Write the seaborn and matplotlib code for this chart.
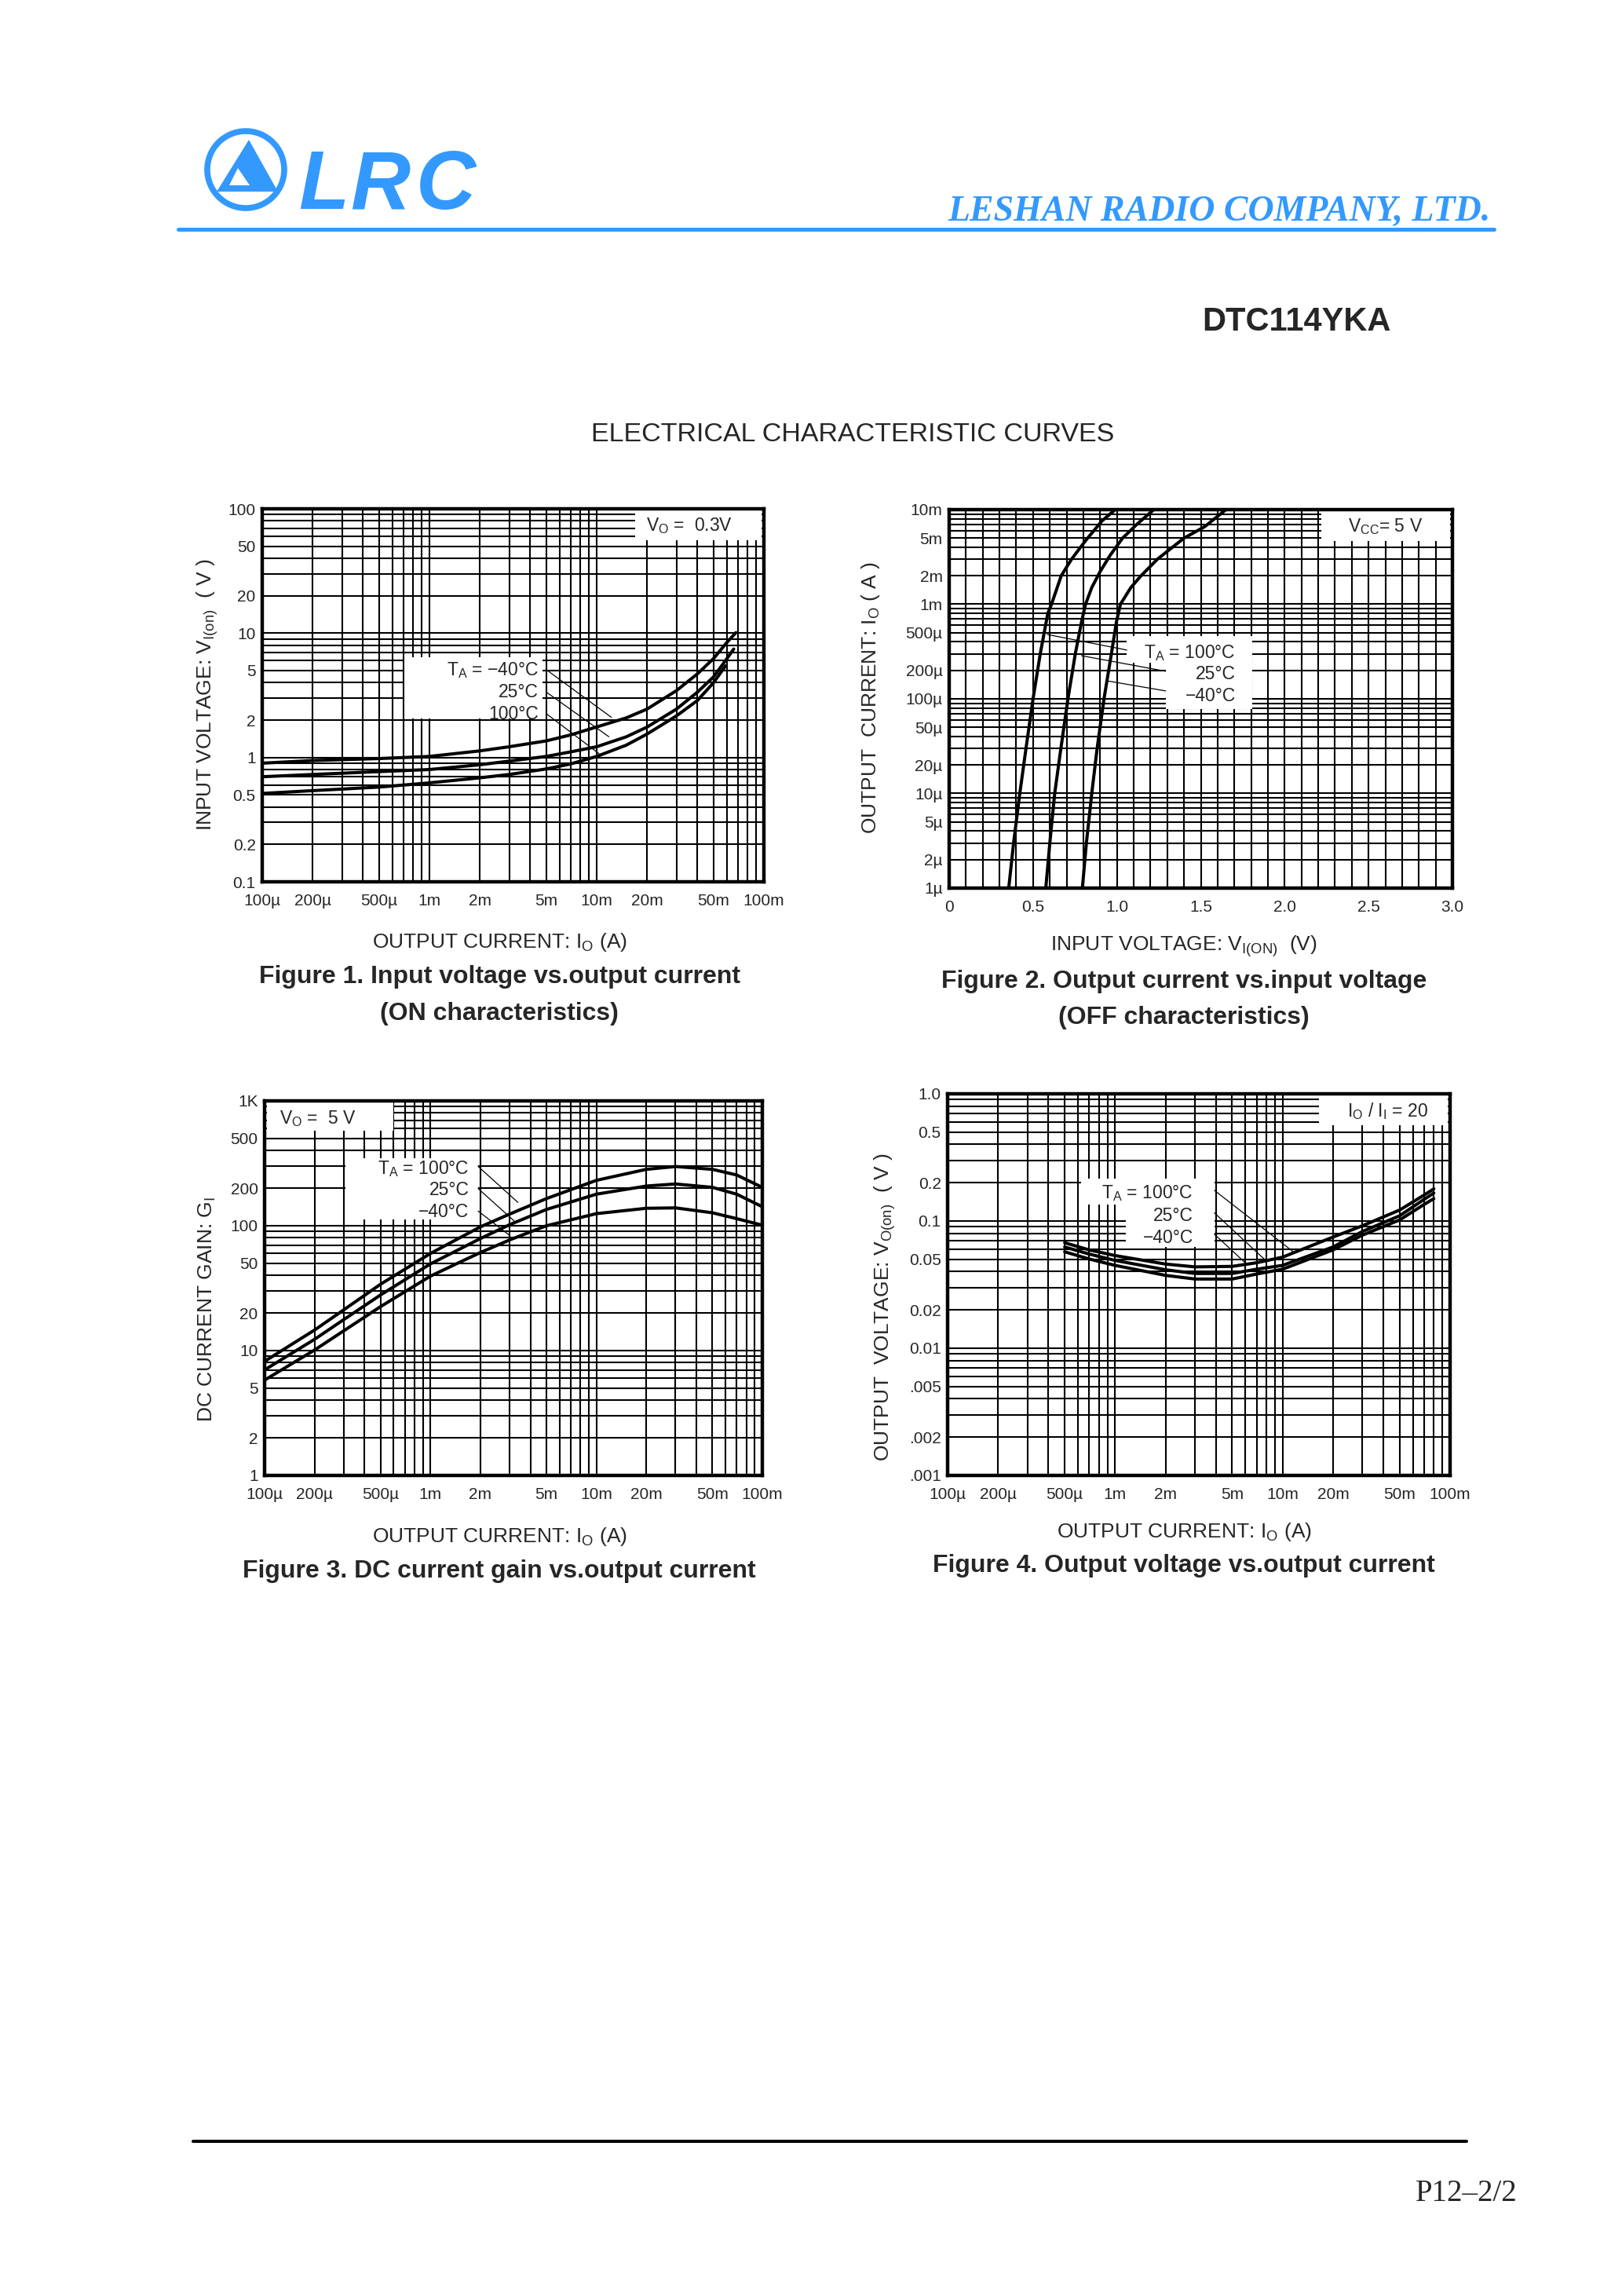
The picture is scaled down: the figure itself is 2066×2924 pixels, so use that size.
import numpy as np
import pandas as pd
import seaborn as sns
import matplotlib.pyplot as plt
from matplotlib.patches import Rectangle, Circle, Polygon
from matplotlib.lines import Line2D
from matplotlib.transforms import Affine2D
from matplotlib.ticker import FixedLocator, FixedFormatter, LogLocator, MultipleLocator, NullFormatter

W, H = 2066, 2924
BLUE = "#3399ff"

# ---- values ----
temps = ["-40°C", "25°C", "100°C"]

# Figure 1: input voltage V_I(on) [V] vs output current I_O [A], V_O = 0.3 V
f1_i_m40 = [1e-4, 2e-4, 5e-4, 1e-3, 2e-3, 3e-3, 5e-3, 7e-3, 1e-2, 1.5e-2, 2e-2, 3e-2, 4e-2, 5e-2, 6e-2, 6.8e-2]
f1_v_m40 = [0.90, 0.945, 0.98, 1.02, 1.13, 1.22, 1.36, 1.52, 1.76, 2.08, 2.45, 3.45, 4.7, 6.25, 8.4, 10.1]
f1_i_25 = [1e-4, 2e-4, 5e-4, 1e-3, 2e-3, 3e-3, 5e-3, 7e-3, 1e-2, 1.5e-2, 2e-2, 3e-2, 4e-2, 5e-2, 6e-2, 6.6e-2]
f1_v_25 = [0.70, 0.73, 0.77, 0.80, 0.874, 0.935, 1.02, 1.11, 1.22, 1.465, 1.755, 2.45, 3.35, 4.45, 6.22, 7.45]
f1_i_100 = [1e-4, 2e-4, 5e-4, 1e-3, 2e-3, 3e-3, 5e-3, 7e-3, 1e-2, 1.5e-2, 2e-2, 3e-2, 4e-2, 5e-2, 5.9e-2]
f1_v_100 = [0.514, 0.541, 0.578, 0.625, 0.686, 0.73, 0.809, 0.888, 1.02, 1.255, 1.543, 2.16, 2.87, 4.0, 5.46]

# Figure 2: output current I_O [A] vs input voltage V_I(off) [V], V_CC = 5 V
f2_v_100 = [0.355, 0.384, 0.421, 0.458, 0.50, 0.543, 0.588, 0.61, 0.668, 0.73, 0.813, 0.911, 0.99]
f2_i_100 = [1e-6, 3e-6, 1e-5, 3e-5, 1e-4, 3e-4, 8e-4, 1e-3, 2e-3, 3e-3, 4.7e-3, 7.6e-3, 1e-2]
f2_v_25 = [0.576, 0.60, 0.629, 0.666, 0.708, 0.752, 0.789, 0.813, 0.85, 0.899, 0.96, 1.034, 1.119, 1.22]
f2_i_25 = [1e-6, 3e-6, 1e-5, 3e-5, 1e-4, 3e-4, 6.5e-4, 1e-3, 1.5e-3, 2.2e-3, 3.3e-3, 5e-3, 7e-3, 1e-2]
f2_v_m40 = [0.794, 0.818, 0.85, 0.882, 0.923, 0.967, 0.997, 1.021, 1.083, 1.144, 1.242, 1.40, 1.523, 1.65]
f2_i_m40 = [1e-6, 3e-6, 1e-5, 3e-5, 1e-4, 3e-4, 6.5e-4, 1e-3, 1.5e-3, 2e-3, 3e-3, 5e-3, 6.6e-3, 1e-2]

# Figure 3: DC current gain G_I vs output current I_O [A], V_O = 5 V
f3_i = [1e-4, 2e-4, 3e-4, 5e-4, 1e-3, 1.5e-3, 2e-3, 3e-3, 5e-3, 1e-2, 2e-2, 3e-2, 5e-2, 7e-2, 1e-1]
f3_g_100 = [8.2, 14.6, 21.2, 34.0, 60, 80, 98, 124, 165, 231, 283, 298, 283, 255, 203]
f3_g_25 = [7.0, 12.3, 17.7, 27.9, 49.5, 65, 79, 102, 135, 179, 208, 216, 203, 179, 142]
f3_g_m40 = [5.8, 10.1, 14.4, 22.5, 39.5, 51, 61, 77, 100, 125, 138, 139, 127, 114, 101]

# Figure 4: output voltage V_O(on) [V] vs output current I_O [A], I_O/I_I = 20
f4_i = [5e-4, 7e-4, 1e-3, 2e-3, 3e-3, 5e-3, 7e-3, 1e-2, 2e-2, 3e-2, 5e-2, 7e-2, 8e-2]
f4_v_100 = [0.0675, 0.0593, 0.0535, 0.0459, 0.0436, 0.044, 0.047, 0.052, 0.0748, 0.0918, 0.122, 0.16, 0.179]
f4_v_25 = [0.0625, 0.055, 0.049, 0.0414, 0.0387, 0.0387, 0.0418, 0.0448, 0.0625, 0.0828, 0.11, 0.148, 0.166]
f4_v_m40 = [0.0573, 0.0503, 0.0448, 0.0374, 0.035, 0.035, 0.0383, 0.0418, 0.0593, 0.0775, 0.102, 0.135, 0.15]

cur_ticks = [1e-4, 2e-4, 5e-4, 1e-3, 2e-3, 5e-3, 1e-2, 2e-2, 5e-2, 1e-1]
cur_labels = ["100µ", "200µ", "500µ", "1m", "2m", "5m", "10m", "20m", "50m", "100m"]
f1_yticks = [0.1, 0.2, 0.5, 1, 2, 5, 10, 20, 50, 100]
f1_ylabels = ["0.1", "0.2", "0.5", "1", "2", "5", "10", "20", "50", "100"]
f2_xticks = [0, 0.5, 1.0, 1.5, 2.0, 2.5, 3.0]
f2_xlabels = ["0", "0.5", "1.0", "1.5", "2.0", "2.5", "3.0"]
f2_yticks = [1e-6, 2e-6, 5e-6, 1e-5, 2e-5, 5e-5, 1e-4, 2e-4, 5e-4, 1e-3, 2e-3, 5e-3, 1e-2]
f2_ylabels = ["1µ", "2µ", "5µ", "10µ", "20µ", "50µ", "100µ", "200µ", "500µ", "1m", "2m", "5m", "10m"]
f3_yticks = [1, 2, 5, 10, 20, 50, 100, 200, 500, 1000]
f3_ylabels = ["1", "2", "5", "10", "20", "50", "100", "200", "500", "1K"]
f4_yticks = [1e-3, 2e-3, 5e-3, 1e-2, 2e-2, 5e-2, 0.1, 0.2, 0.5, 1.0]
f4_ylabels = [".001", ".002", ".005", "0.01", "0.02", "0.05", "0.1", "0.2", "0.5", "1.0"]

sns.set_style("white")
plt.rcParams["font.family"] = ["Liberation Sans", "DejaVu Sans"]
plt.rcParams["mathtext.fontset"] = "custom"
plt.rcParams["mathtext.rm"] = "Liberation Sans"
plt.rcParams["mathtext.it"] = "Liberation Sans:italic"
plt.rcParams["mathtext.bf"] = "Liberation Sans:bold"

fig = plt.figure(figsize=(W / 100, H / 100), dpi=100)
fig.patch.set_facecolor("white")
PIX = Affine2D().scale(1, -1).translate(0, H)  # reference pixel coords, y down


def long_df(xs, ys, xname, yname):
    parts = []
    for t, x, y in zip(temps, xs, ys):
        parts.append(pd.DataFrame({xname: x, yname: y, "T": t}))
    return pd.concat(parts, ignore_index=True)


def log_axis(axis, ticks, labels):
    axis.set_major_locator(FixedLocator(ticks))
    axis.set_major_formatter(FixedFormatter(labels))
    axis.set_minor_locator(LogLocator(base=10, subs=np.arange(2, 10), numticks=60))
    axis.set_minor_formatter(NullFormatter())


def style_axes(ax):
    ax.set_axisbelow(True)
    ax.grid(True, which="both", color="black", lw=1.5)
    ax.tick_params(which="both", length=0, labelsize=15)
    ax.tick_params(axis="x", pad=11)
    ax.tick_params(axis="y", pad=6)
    for s in ax.spines.values():
        s.set_visible(True)
        s.set_linewidth(3.2)
        s.set_color("black")
    ax.set_xlabel("")
    ax.set_ylabel("")


def notes(ax, rects, texts, leaders, fs=16.5):
    for x0, y0, x1, y1 in rects:
        ax.add_patch(Rectangle((x0, y0), x1 - x0, y1 - y0, transform=ax.transAxes,
                               facecolor="white", edgecolor="none", zorder=1.5))
    for x, y, s, ha in texts:
        ax.text(x, y, s, transform=ax.transAxes, ha=ha, va="center", fontsize=fs, zorder=4)
    for a, b in leaders:
        ax.annotate("", xy=b, xytext=a, xycoords="axes fraction", textcoords="axes fraction",
                    arrowprops=dict(arrowstyle="-", color="black", lw=0.9, shrinkA=0, shrinkB=0),
                    zorder=4)


def draw(ax, df, x, y):
    sns.lineplot(data=df, x=x, y=y, hue="T", hue_order=temps, palette=["black"] * 3,
                 estimator=None, errorbar=None, legend=False, lw=2.9, sort=False, ax=ax, zorder=3)


def ax_at(l, t, r, b):
    return fig.add_axes([l / W, 1 - b / H, (r - l) / W, (b - t) / H])


# ---- Figure 1 ----
ax1 = ax_at(334, 648, 973, 1123)
df1 = long_df([f1_i_m40, f1_i_25, f1_i_100], [f1_v_m40, f1_v_25, f1_v_100], "I", "V")
draw(ax1, df1, "I", "V")
ax1.set_xscale("log")
ax1.set_yscale("log")
log_axis(ax1.xaxis, cur_ticks, cur_labels)
log_axis(ax1.yaxis, f1_yticks, f1_ylabels)
style_axes(ax1)
notes(ax1,
      [(0.744, 0.916, 0.996, 0.998), (0.283, 0.437, 0.559, 0.602)],
      [(0.852, 0.954, "V$_{\\mathrm{O}}$ =  0.3V", "center"),
       (0.551, 0.568, "T$_{\\mathrm{A}}$ = \u221240°C", "right"),
       (0.551, 0.508, "25°C", "right"),
       (0.551, 0.450, "100°C", "right")],
      [((0.567, 0.568), (0.696, 0.441)), ((0.567, 0.508), (0.691, 0.389)),
       ((0.567, 0.450), (0.671, 0.344))])
ax1.set_xlim(1e-4, 1e-1)
ax1.set_ylim(0.1, 100)

# ---- Figure 2 ----
ax2 = ax_at(1209, 649, 1850, 1131)
df2 = long_df([f2_v_m40, f2_v_25, f2_v_100], [f2_i_m40, f2_i_25, f2_i_100], "V", "I")
draw(ax2, df2, "V", "I")
ax2.set_yscale("log")
ax2.xaxis.set_major_locator(FixedLocator(f2_xticks))
ax2.xaxis.set_major_formatter(FixedFormatter(f2_xlabels))
ax2.xaxis.set_minor_locator(MultipleLocator(0.1))
log_axis(ax2.yaxis, f2_yticks, f2_ylabels)
style_axes(ax2)
notes(ax2,
      [(0.740, 0.918, 0.996, 1.0), (0.353, 0.596, 0.602, 0.666), (0.430, 0.473, 0.602, 0.596)],
      [(0.867, 0.955, "V$_{\\mathrm{CC}}$= 5 V", "center"),
       (0.569, 0.622, "T$_{\\mathrm{A}}$ = 100°C", "right"),
       (0.569, 0.566, "25°C", "right"),
       (0.569, 0.507, "\u221240°C", "right")],
      [((0.353, 0.629), (0.195, 0.670)), ((0.430, 0.573), (0.263, 0.614)),
       ((0.430, 0.521), (0.316, 0.547))])
ax2.set_xlim(0, 3.0)
ax2.set_ylim(1e-6, 1e-2)

# ---- Figure 3 ----
ax3 = ax_at(337, 1402, 971, 1879)
df3 = long_df([f3_i, f3_i, f3_i], [f3_g_m40, f3_g_25, f3_g_100], "I", "G")
draw(ax3, df3, "I", "G")
ax3.set_xscale("log")
ax3.set_yscale("log")
log_axis(ax3.xaxis, cur_ticks, cur_labels)
log_axis(ax3.yaxis, f3_yticks, f3_ylabels)
style_axes(ax3)
notes(ax3,
      [(0.004, 0.921, 0.258, 0.999), (0.162, 0.684, 0.429, 0.847)],
      [(0.106, 0.953, "V$_{\\mathrm{O}}$ =  5 V", "center"),
       (0.411, 0.819, "T$_{\\mathrm{A}}$ = 100°C", "right"),
       (0.411, 0.762, "25°C", "right"),
       (0.411, 0.703, "\u221240°C", "right")],
      [((0.429, 0.825), (0.509, 0.729)), ((0.429, 0.766), (0.501, 0.680)),
       ((0.429, 0.706), (0.493, 0.640))])
ax3.set_xlim(1e-4, 1e-1)
ax3.set_ylim(1, 1000)

# ---- Figure 4 ----
ax4 = ax_at(1207, 1393, 1847, 1879)
df4 = long_df([f4_i, f4_i, f4_i], [f4_v_m40, f4_v_25, f4_v_100], "I", "V")
draw(ax4, df4, "I", "V")
ax4.set_xscale("log")
ax4.set_yscale("log")
log_axis(ax4.xaxis, cur_ticks, cur_labels)
log_axis(ax4.yaxis, f4_yticks, f4_ylabels)
style_axes(ax4)
notes(ax4,
      [(0.739, 0.918, 0.996, 1.0), (0.266, 0.710, 0.531, 0.777), (0.354, 0.599, 0.531, 0.710)],
      [(0.876, 0.955, "I$_{\\mathrm{O}}$ / I$_{\\mathrm{I}}$ = 20", "center"),
       (0.489, 0.740, "T$_{\\mathrm{A}}$ = 100°C", "right"),
       (0.489, 0.680, "25°C", "right"),
       (0.489, 0.622, "\u221240°C", "right")],
      [((0.531, 0.747), (0.687, 0.587)), ((0.531, 0.688), (0.635, 0.561)),
       ((0.531, 0.632), (0.595, 0.554))])
ax4.set_xlim(1e-4, 1e-1)
ax4.set_ylim(1e-3, 1.0)

# ---- axis labels and captions ----
def ftext(x, y, s, **kw):
    kw.setdefault("ha", "center")
    kw.setdefault("va", "center")
    fig.text(x, y, s, transform=PIX, **kw)

lab = 19
cap = 23
ftext(636, 1200, "OUTPUT CURRENT: I$_{\\mathrm{O}}$ (A)", fontsize=lab)
ftext(264, 884, "INPUT VOLTAGE: V$_{\\mathrm{I(on)}}$  ( V )", fontsize=lab, rotation=90)
ftext(636, 1244, "Figure 1. Input voltage vs.output current", fontsize=cap, fontweight="bold")
ftext(636, 1291, "(ON characteristics)", fontsize=cap, fontweight="bold")

ftext(1508, 1205, "INPUT VOLTAGE: V$_{\\mathrm{I(ON)}}$  (V)", fontsize=lab)
ftext(1109, 889, "OUTPUT  CURRENT: I$_{\\mathrm{O}}$ ( A )", fontsize=lab, rotation=90)
ftext(1508, 1250, "Figure 2. Output current vs.input voltage", fontsize=cap, fontweight="bold")
ftext(1508, 1296, "(OFF characteristics)", fontsize=cap, fontweight="bold")

ftext(636, 1957, "OUTPUT CURRENT: I$_{\\mathrm{O}}$ (A)", fontsize=lab)
ftext(264, 1667, "DC CURRENT GAIN: G$_{\\mathrm{I}}$", fontsize=lab, rotation=90)
ftext(636, 2001, "Figure 3. DC current gain vs.output current", fontsize=cap, fontweight="bold")

ftext(1508, 1951, "OUTPUT CURRENT: I$_{\\mathrm{O}}$ (A)", fontsize=lab)
ftext(1127, 1665, "OUTPUT  VOLTAGE: V$_{\\mathrm{O(on)}}$  ( V )", fontsize=lab, rotation=90)
ftext(1508, 1994, "Figure 4. Output voltage vs.output current", fontsize=cap, fontweight="bold")

# ---- page header / footer ----
ftext(1086, 562, "ELECTRICAL CHARACTERISTIC CURVES", fontsize=24.5, va="baseline")
ftext(1651, 421, "DTC114YKA", fontsize=30, fontweight="bold", va="baseline")
ftext(1899, 281, "LESHAN RADIO COMPANY, LTD.", fontsize=33, ha="right", va="baseline",
      color=BLUE, style="italic", fontweight="bold", family=["Liberation Serif", "DejaVu Serif"])
fig.add_artist(Line2D([227, 1903], [292, 292], transform=PIX, color=BLUE, lw=3.6))

# logo: ring with mountain mark, then LRC letters
fig.add_artist(Circle((313, 216), 49, transform=PIX, fill=False, edgecolor=BLUE, lw=5.5))
fig.add_artist(Polygon([(317, 178), (276, 244), (354, 244)], closed=True, transform=PIX,
                       facecolor=BLUE, edgecolor="none"))
fig.add_artist(Polygon([(303, 214), (292, 236), (318, 236)], closed=True, transform=PIX,
                       facecolor="white", edgecolor="none"))
for letter, cx in zip("LRC", [412, 484, 568]):
    ftext(cx, 266, letter, fontsize=76, fontweight="bold", style="italic", color=BLUE, va="baseline")

fig.add_artist(Line2D([246, 1868], [2727, 2727], transform=PIX, color="black", lw=2.9))
ftext(1933, 2803, "P12\u20132/2", fontsize=28, ha="right", va="baseline",
      family=["Liberation Serif", "DejaVu Serif"])

fig.savefig("out.png", dpi=100, facecolor="white")
